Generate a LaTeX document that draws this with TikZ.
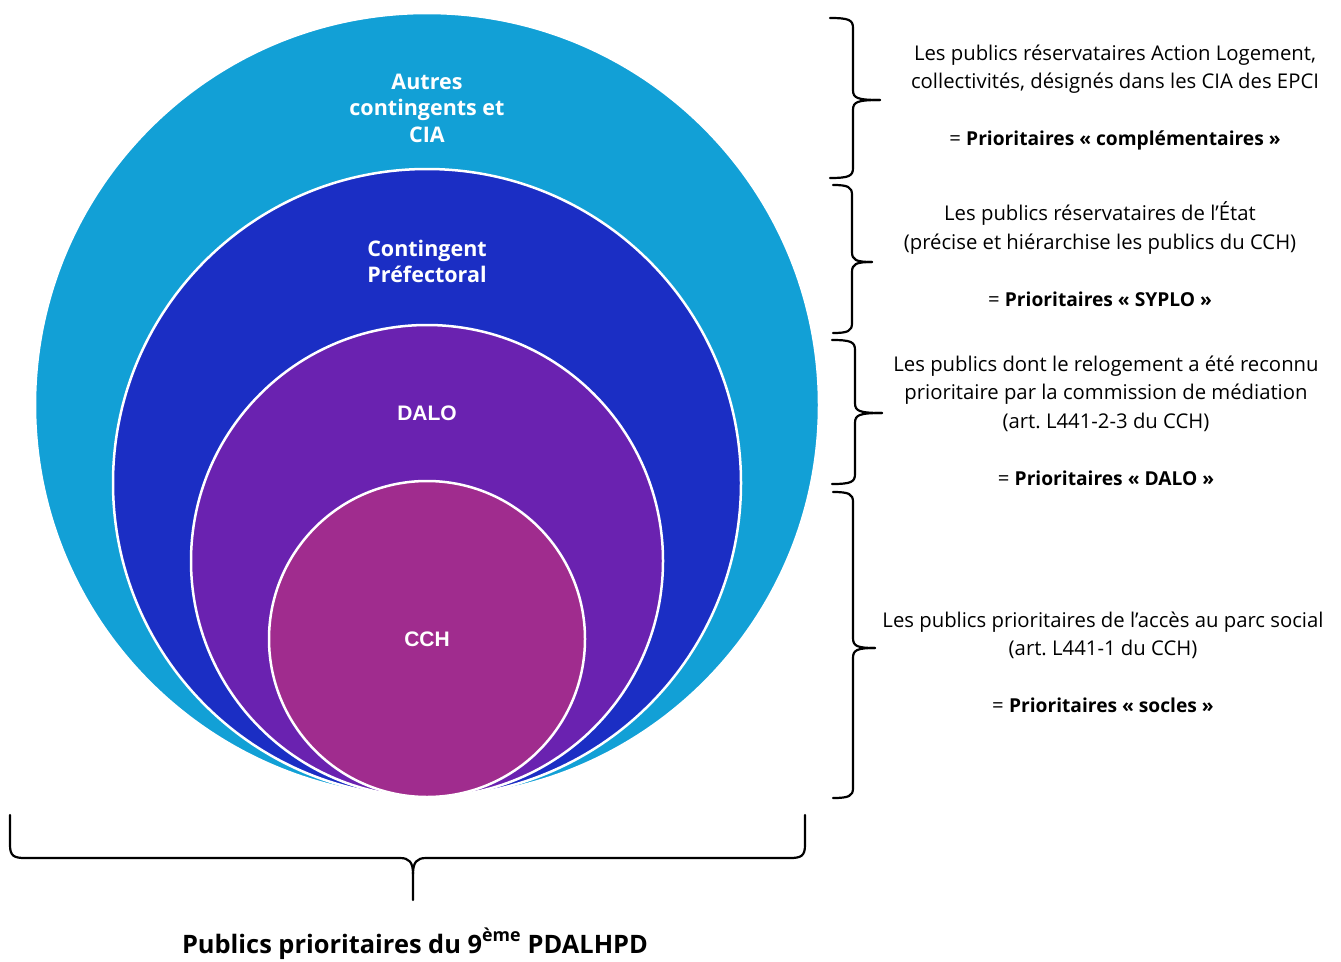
\documentclass[tikz,border=0pt]{standalone}
\usepackage{graphicx}
\usepackage{fontspec}
\setmainfont{Open Sans}
\newfontfamily\arialfont{Liberation Sans}
\usetikzlibrary{positioning}
\frenchspacing

\definecolor{bleuclair}{RGB}{18,160,214}
\definecolor{bleufonce}{RGB}{27,46,196}
\definecolor{violetdalo}{RGB}{106,34,176}
\definecolor{rosecch}{RGB}{160,44,142}

\newcommand{\prio}[1]{{\bfseries\fontsize{19.2}{28.5}\selectfont #1}}

\tikzset{
    ring/.style={circle,draw=white,line width=2.5pt,inner sep=0pt},
    inlabel/.style={text=white,align=center,font=\bfseries\fontsize{21.5}{26.5}\selectfont},
    inarial/.style={text=white,font=\arialfont\bfseries\fontsize{21}{26}\selectfont},
    side/.style={align=center,font=\fontsize{20.3}{28.5}\selectfont},
    accolade/.style={line width=2.2pt,line cap=round,line join=round}
}

% accolade vers la droite : x bouts, x trait, x pointe, y haut, y milieu, y bas
\newcommand{\accdroite}[6]{
    \draw[accolade] (#1,#4) .. controls (#2-4,#4) and (#2,#4+2) .. (#2,#4+10)
        -- (#2,#5-10) .. controls (#2,#5-2) and (#2+4,#5) .. (#3,#5);
    \draw[accolade] (#3,#5) .. controls (#2+4,#5) and (#2,#5+2) .. (#2,#5+10)
        -- (#2,#6-10) .. controls (#2,#6-2) and (#2-4,#6) .. (#1,#6);
}

\begin{document}
\begin{tikzpicture}[x=1pt,y=-1pt]
    \useasboundingbox (0,0) rectangle (1341,961);

    \node[ring,fill=bleuclair,minimum size=784pt](autres)at(427,405) {};
    \node[ring,fill=bleufonce,minimum size=628pt](prefet)at(427,483) {};
    \node[ring,fill=violetdalo,minimum size=472pt](dalo)at(427,561) {};
    \node[ring,fill=rosecch,minimum size=316pt](cch)at(427,639) {};

    \node[inlabel](lautres)at(427,108) {Autres\\contingents et\\CIA};
    \node[inlabel](lprefet)at(427,261.5) {Contingent\\Préfectoral};
    \node[inarial](ldalo)at(427,413) {DALO};
    \node[inarial](lcch)at(427,639) {CCH};

    \accdroite{830}{853}{880}{18}{100}{178}
    \accdroite{833}{852}{872}{185}{262}{333}
    \accdroite{832}{855}{882}{340}{413}{484}
    \accdroite{833}{853}{875}{492}{648}{798}

    \node[side](tautres)at(1115,97.5) {Les publics réservataires Action Logement,\\
        collectivités, désignés dans les CIA des EPCI\\[28.5pt]
        = \prio{Prioritaires « complémentaires »}};
    \node[side](tprefet)at(1100,254) {Les publics réservataires de l’État\\
        (précise et hiérarchise les publics du CCH)\\[28.5pt]
        = \prio{Prioritaires « SYPLO »}};
    \node[side](tdalo)at(1106,420.5) {Les publics dont le relogement a été reconnu\\
        prioritaire par la commission de médiation\\
        (art. L441-2-3 du CCH)\\[28.5pt]
        = \prio{Prioritaires « DALO »}};
    \node[side](tcch)at(1103,662.5) {Les publics prioritaires de l’accès au parc social\\
        (art. L441-1 du CCH)\\[28.5pt]
        = \prio{Prioritaires « socles »}};

    % accolade du bas
    \draw[accolade] (10,815) -- (10,845) .. controls (10,856) and (14,858) .. (25,858)
        -- (400,858) .. controls (409,858) and (413,862) .. (413,874) -- (413,900);
    \draw[accolade] (805,815) -- (805,845) .. controls (805,856) and (801,858) .. (790,858)
        -- (426,858) .. controls (417,858) and (413,862) .. (413,874);

    \node[font=\bfseries\fontsize{25.4}{30}\selectfont](titre)at(415,944)
        {Publics prioritaires du 9\textsuperscript{\raisebox{3pt}{ème}} PDALHPD};
\end{tikzpicture}
\end{document}
